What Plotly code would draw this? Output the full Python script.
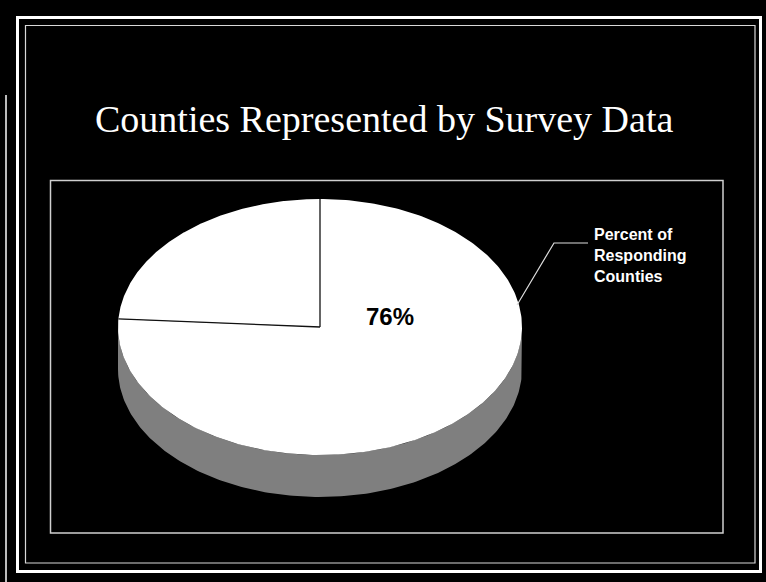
import numpy as np
import plotly.graph_objects as go

# ---- data ----
categories = ["Percent of Responding Counties", "Non-responding Counties"]
values = [76, 24]
slice_labels = ["76%", ""]
title_text = "Counties Represented by Survey Data"
legend_label = "Percent of<br>Responding<br>Counties"

# ---- geometry of the tilted (3-D) pie, in pixel coordinates ----
W, H = 766, 582
cx, cy = 320.0, 327.0   # centre of the top face
a, b = 202.0, 128.0     # semi-axes of the top face
depth = 42.0            # thickness of the pie side

def ell(theta_deg, dy=0.0):
    t = np.radians(theta_deg)
    return cx + a * np.cos(t), cy - b * np.sin(t) + dy

fig = go.Figure()

# side (visible front half)
th = np.linspace(180, 360, 200)
xs1, ys1 = ell(th)
xs2, ys2 = ell(th[::-1], depth)
fig.add_trace(go.Scatter(
    x=np.concatenate([xs1, xs2]), y=np.concatenate([ys1, ys2]),
    mode="lines", fill="toself", line=dict(width=0, color="#555555"),
    fillcolor="#7a7a7a",
    fillpattern=dict(shape=".", fgcolor="#1e1e1e", bgcolor="#9a9a9a", size=2, solidity=0.5),
    hoverinfo="skip", showlegend=False))

# top-face slices: start at 12 o'clock, clockwise
total = float(sum(values))
start = 90.0
bounds = []
for v, lab in zip(values, slice_labels):
    sweep = 360.0 * v / total
    th = np.linspace(start, start - sweep, 300)
    xe, ye = ell(th)
    fig.add_trace(go.Scatter(
        x=np.concatenate([[cx], xe, [cx]]), y=np.concatenate([[cy], ye, [cy]]),
        mode="lines", fill="toself", fillcolor="white", line=dict(width=0, color="white"),
        hoverinfo="skip", showlegend=False, name=lab))
    bounds.append(start)
    start -= sweep

# radial boundary lines
for ang in bounds:
    xe, ye = ell(ang)
    fig.add_trace(go.Scatter(x=[cx, xe], y=[cy, ye], mode="lines",
                             line=dict(color="#111111", width=1.3),
                             hoverinfo="skip", showlegend=False))

# ---- frames ----
shapes = [
    dict(type="rect", x0=17.5, y0=17.5, x1=760.5, y1=571.5, line=dict(color="white", width=3)),
    dict(type="rect", x0=25.5, y0=25.5, x1=755, y1=563, line=dict(color="#d8d8d8", width=1.2)),
    dict(type="rect", x0=50.5, y0=180.5, x1=723, y1=533, line=dict(color="#cfcfcf", width=1.5)),
    dict(type="line", x0=6, y0=95, x1=6, y1=582, line=dict(color="#bbbbbb", width=2)),
    # leader line for the label
    dict(type="path", path="M 517 305 L 554 243 L 588 243", line=dict(color="#dddddd", width=1.2)),
]
for s in shapes:
    s.update(xref="x", yref="y", layer="above")

annotations = [
    dict(x=383.5, y=119, text=title_text, showarrow=False, xanchor="center", yanchor="middle",
         font=dict(family="Liberation Serif, Times New Roman, serif", size=38, color="white")),
    dict(x=592, y=255, text="<b>" + legend_label + "</b>", showarrow=False, xanchor="left",
         yanchor="middle", align="left",
         font=dict(family="Liberation Sans, Arial, sans-serif", size=16, color="white")),
    dict(x=390, y=316, text="<b>" + slice_labels[0] + "</b>", showarrow=False,
         xanchor="center", yanchor="middle",
         font=dict(family="Liberation Sans, Arial, sans-serif", size=24, color="black")),
]

fig.update_layout(
    width=W, height=H, margin=dict(l=0, r=0, t=0, b=0),
    paper_bgcolor="black", plot_bgcolor="black",
    xaxis=dict(range=[0, W], visible=False, fixedrange=True),
    yaxis=dict(range=[H, 0], visible=False, fixedrange=True),
    shapes=shapes, annotations=annotations, showlegend=False,
)

fig.write_html("out.html")
